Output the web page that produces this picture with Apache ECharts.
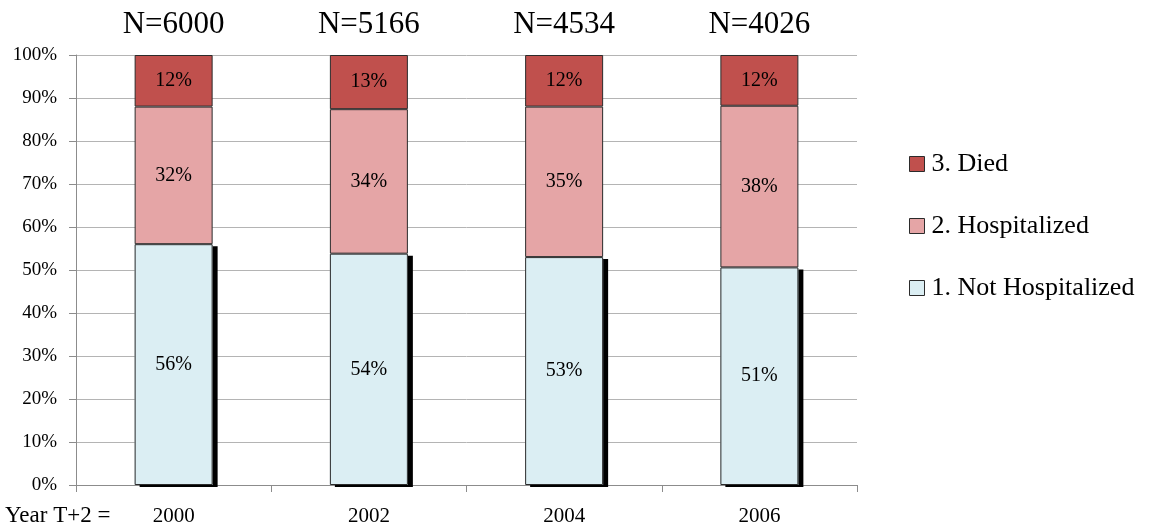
<!DOCTYPE html>
<html>
<head>
<meta charset="utf-8">
<script src="https://cdn.jsdelivr.net/npm/echarts@6/dist/echarts.min.js"></script>
<style>
  html, body { margin: 0; padding: 0; background: #fff; }
  #chart { width: 1150px; height: 531px; }
</style>
</head>
<body>
<div id="chart"></div>
<script>
// Outcome two years later, share of each cohort (%)
var years = ['2000', '2002', '2004', '2006'];
var cohortSizes = ['N=6000', 'N=5166', 'N=4534', 'N=4026'];
var notHospitalized = [56.0, 53.8, 53.0, 50.6];
var hospitalized = [32.0, 33.6, 35.0, 37.6];
var died = [12.0, 12.6, 12.0, 11.8];

var FONT = '"Liberation Serif", "Times New Roman", serif';
var BORDER = '#2b2b2b';
var BAR_W = 78;

function pctLabel(p) { return Math.round(p.value) + '%'; }

function segment(name, values, color, itemExtra) {
  var s = {
    name: name,
    type: 'bar',
    stack: 'total',
    barWidth: BAR_W,
    data: values,
    itemStyle: { color: color, borderColor: BORDER, borderWidth: 1 },
    label: {
      show: true,
      position: 'inside',
      formatter: pctLabel,
      color: '#000',
      fontFamily: FONT,
      fontSize: 20
    }
  };
  if (itemExtra) Object.assign(s.itemStyle, itemExtra);
  return s;
}

var legendIcon = { borderColor: BORDER, borderWidth: 1 };

var chart = echarts.init(document.getElementById('chart'), null, { renderer: 'canvas' });
chart.setOption({
  animation: false,
  backgroundColor: '#fff',
  grid: { left: 76, right: 293, top: 55, bottom: 46 },
  legend: {
    orient: 'vertical',
    left: 904,
    top: 146,
    itemWidth: 15,
    itemHeight: 15,
    itemGap: 36,
    icon: 'rect',
    data: [
      { name: '3. Died', itemStyle: legendIcon },
      { name: '2. Hospitalized', itemStyle: legendIcon },
      { name: '1. Not Hospitalized', itemStyle: legendIcon }
    ],
    textStyle: { fontFamily: FONT, fontSize: 26, color: '#000', padding: [0, 0, 0, 2] }
  },
  xAxis: [
    {
      type: 'category',
      data: years,
      axisLine: { lineStyle: { color: '#8c8c8c', width: 1 } },
      axisTick: { show: true, length: 7, lineStyle: { color: '#8c8c8c' } },
      axisLabel: { fontFamily: FONT, fontSize: 21, color: '#000', margin: 21 }
    },
    {
      type: 'category',
      position: 'top',
      data: cohortSizes,
      axisLine: { show: false },
      axisTick: { show: false },
      axisLabel: { fontFamily: FONT, fontSize: 31, color: '#000', margin: 15 }
    }
  ],
  yAxis: {
    type: 'value',
    min: 0,
    max: 100,
    interval: 10,
    axisLine: { show: true, lineStyle: { color: '#8c8c8c' } },
    axisTick: { show: true, length: 7, lineStyle: { color: '#8c8c8c' } },
    splitLine: { lineStyle: { color: '#b4b4b4', width: 1 } },
    axisLabel: { formatter: '{value}%', fontFamily: FONT, fontSize: 19, color: '#000', margin: 19 }
  },
  graphic: [
    {
      type: 'text',
      left: 5,
      top: 504,
      style: { text: 'Year T+2 =', font: '23px ' + FONT, fill: '#000' }
    }
  ],
  series: [
    // lower segment: fill only, casting a hard black drop shadow
    segment('1. Not Hospitalized', notHospitalized, '#dbeef3',
      { borderWidth: 0, shadowColor: '#000', shadowBlur: 0, shadowOffsetX: 5, shadowOffsetY: 2 }),
    segment('2. Hospitalized', hospitalized, '#e5a5a6'),
    segment('3. Died', died, '#c0504d'),
    // outline of the lower segment, drawn on top without a shadow
    {
      name: 'outline',
      type: 'bar',
      stack: 'outline',
      barWidth: BAR_W,
      barGap: '-100%',
      data: notHospitalized,
      silent: true,
      itemStyle: { color: 'rgba(0,0,0,0)', borderColor: BORDER, borderWidth: 1 },
      label: { show: false }
    }
  ]
});
</script>
</body>
</html>
